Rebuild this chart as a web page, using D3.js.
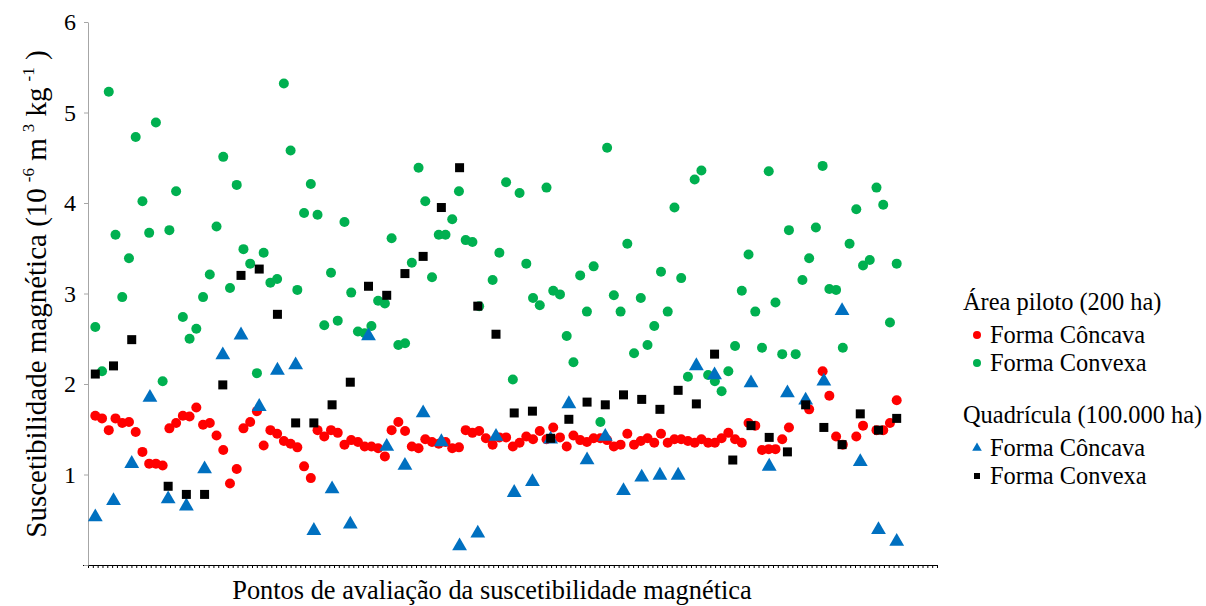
<!DOCTYPE html>
<html><head><meta charset="utf-8">
<script src="https://cdn.jsdelivr.net/npm/d3@7"></script>
<style>
body{margin:0;background:#fff}
text{font-family:"Liberation Serif","Times New Roman",serif;fill:#000}
</style>
</head><body>
<svg id="c" width="1206" height="606"></svg>
<script>
// Área piloto (200 ha) — Forma Côncava (red circles)
const pilotoConcava = [
1.65,1.62,1.49,1.62,1.57,1.58,1.47,1.25,1.12,1.12,
1.10,1.51,1.57,1.65,1.64,1.74,1.55,1.57,1.43,1.27,
0.90,1.06,1.51,1.58,1.70,1.32,1.49,1.45,1.37,1.34,
1.30,1.09,0.96,1.49,1.42,1.49,1.46,1.33,1.38,1.36,
1.31,1.31,1.29,1.20,1.49,1.58,1.48,1.31,1.29,1.39,
1.36,1.34,1.36,1.29,1.30,1.49,1.46,1.48,1.40,1.33,
1.41,1.41,1.31,1.35,1.42,1.39,1.48,1.39,1.52,1.41,
1.31,1.43,1.38,1.36,1.40,1.40,1.38,1.31,1.33,1.45,
1.33,1.37,1.40,1.35,1.45,1.35,1.39,1.39,1.37,1.35,
1.39,1.35,1.35,1.40,1.46,1.39,1.35,1.57,1.54,1.27,
1.28,1.28,1.39,1.52,null,null,1.72,null,2.14,1.87,
1.42,1.33,null,1.42,1.54,null,1.49,1.49,1.57,1.82
];
// Área piloto (200 ha) — Forma Convexa (green circles)
const pilotoConvexa = [
2.63,2.14,5.23,3.65,2.96,3.39,4.73,4.02,3.67,4.89,
2.03,3.70,4.13,2.74,2.50,2.61,2.96,3.21,3.74,4.51,
3.06,4.20,3.49,3.33,2.12,3.45,3.12,3.16,5.32,4.58,
3.04,3.89,4.21,3.87,2.65,3.23,2.70,3.79,3.01,2.58,
2.56,2.64,2.92,2.89,3.61,2.43,2.45,3.34,4.39,4.02,
3.18,3.65,3.65,3.82,4.13,3.59,3.57,2.86,null,3.15,
3.45,4.23,2.05,4.11,3.33,2.95,2.87,4.17,3.03,2.99,
2.53,2.24,3.20,2.80,3.30,1.58,4.61,2.98,2.80,3.55,
2.34,2.95,2.43,2.64,3.24,2.80,3.95,3.17,2.08,4.26,
4.36,2.10,2.03,1.92,2.14,2.42,3.03,3.43,2.80,2.40,
4.35,2.90,2.33,3.70,2.33,3.15,3.39,3.73,4.41,3.05,
3.04,2.40,3.55,3.93,3.31,3.37,4.17,3.98,2.68,3.33
];
// Quadrícula (100.000 ha) — Forma Côncava (blue triangles)
const quadConcava = [
0.53,0.71,1.12,1.85,0.73,0.65,1.06,2.32,2.54,1.75,
2.15,2.21,0.38,0.84,0.45,2.53,1.31,1.10,1.68,1.36,
0.21,0.35,1.42,0.80,0.92,1.39,1.78,1.16,1.42,0.82,
0.97,0.99,0.99,2.20,2.10,null,2.01,1.09,1.90,1.82,
2.03,2.81,1.14,0.39,0.26
];
// Quadrícula (100.000 ha) — Forma Convexa (black squares)
const quadConvexa = [
2.11,2.20,2.49,null,0.87,0.78,0.78,1.99,3.20,3.27,
2.77,1.57,1.57,1.77,2.02,3.08,2.98,3.22,3.41,3.95,
4.39,2.86,2.55,1.68,1.70,1.40,1.61,1.80,1.77,1.88,
1.83,1.72,1.93,1.78,2.33,1.16,1.54,1.41,1.25,1.77,
1.52,1.33,1.67,1.49,1.62
];
const yTickValues = [0,1,2,3,4,5,6];
const yTitleParts = ["Suscetibilidade magnética (10","-6"," m","3"," kg","-1"," )"];
const xTitle = "Pontos de avaliação da suscetibilidade magnética";
const legendGroups = [
  {title:"Área piloto (200 ha)", items:[{label:"Forma Côncava",shape:"circle",color:"#FF0000"},{label:"Forma Convexa",shape:"circle",color:"#00B050"}]},
  {title:"Quadrícula (100.000 ha)", items:[{label:"Forma Côncava",shape:"triangle",color:"#0070C0"},{label:"Forma Convexa",shape:"square",color:"#000000"}]}
];

const svg = d3.select("#c");
const y = d3.scaleLinear().domain([0,6]).range([565,22]);
const xA = d3.scaleLinear().domain([0,pilotoConcava.length-1]).range([95.3,896.7]);
const xQ = d3.scaleLinear().domain([0,quadConcava.length-1]).range([95.3,896.7]);
const xT = d3.scaleLinear().domain([0,176]).range([88,937]);

// x axis
const gx = svg.append("g").attr("transform","translate(0,565)")
  .call(d3.axisBottom(xT).tickValues(d3.range(0,177)).tickSize(3).tickSizeOuter(0).tickFormat(""));
gx.selectAll("path,line").attr("stroke","#000").attr("stroke-width",1);
svg.append("line").attr("x1",83).attr("x2",88).attr("y1",565.5).attr("y2",565.5).attr("stroke","#000");

// y axis
const gy = svg.append("g").attr("transform","translate(88,0)")
  .call(d3.axisLeft(y).tickValues(yTickValues).tickSize(4).tickSizeOuter(0).tickPadding(8)
    .tickFormat(d=>d===0?"":d));
gy.selectAll("path,line").attr("stroke","#a6a6a6");
gy.selectAll("text").attr("font-size",24).attr("font-family","Liberation Serif").attr("fill","#000");

// points
const pts = arr=>arr.map((v,i)=>({i,v})).filter(d=>d.v!==null);
svg.append("g").selectAll("circle").data(pts(pilotoConcava)).join("circle")
  .attr("cx",d=>xA(d.i)).attr("cy",d=>y(d.v)).attr("r",5).attr("fill","#FF0000");
svg.append("g").selectAll("circle").data(pts(pilotoConvexa)).join("circle")
  .attr("cx",d=>xA(d.i)).attr("cy",d=>y(d.v)).attr("r",5).attr("fill","#00B050");
const tri = d3.symbol().type(d3.symbolTriangle).size(95);
svg.append("g").selectAll("path").data(pts(quadConcava)).join("path")
  .attr("d",tri).attr("transform",d=>`translate(${xQ(d.i)},${y(d.v)})`).attr("fill","#0070C0");
svg.append("g").selectAll("rect").data(pts(quadConvexa)).join("rect")
  .attr("x",d=>xQ(d.i)-4.5).attr("y",d=>y(d.v)-4.5).attr("width",9).attr("height",9).attr("fill","#000");

// y title
const yt = svg.append("text").attr("transform","translate(46,294) rotate(-90)")
  .attr("text-anchor","middle").attr("font-size",29);
yTitleParts.forEach((t,k)=>{
  const sup = k%2===1;
  yt.append("tspan").text(t)
    .attr("font-size",sup?17:29)
    .attr("dx",sup?6:0)
    .attr("dy",sup?-12:(k===0?0:12));
});

// x title
svg.append("text").attr("x",492).attr("y",599).attr("text-anchor","middle")
  .attr("font-size",26.4).text(xTitle);

// legend
const lg = svg.append("g");
const gyPos = [310, 423];
legendGroups.forEach((g,gi)=>{
  lg.append("text").attr("x",963).attr("y",gyPos[gi]).attr("font-size",24.4).text(g.title);
  g.items.forEach((it,ii)=>{
    const cy = gyPos[gi] + 25 + ii*28;
    if(it.shape==="circle") lg.append("circle").attr("cx",977).attr("cy",cy).attr("r",4).attr("fill",it.color);
    else if(it.shape==="triangle") lg.append("path").attr("d",d3.symbol().type(d3.symbolTriangle).size(40)).attr("transform",`translate(977,${cy})`).attr("fill",it.color);
    else lg.append("rect").attr("x",974).attr("y",cy-3).attr("width",6).attr("height",6).attr("fill",it.color);
    lg.append("text").attr("x",990).attr("y",cy+8).attr("font-size",24.4).text(it.label);
  });
});
</script>
</body></html>
